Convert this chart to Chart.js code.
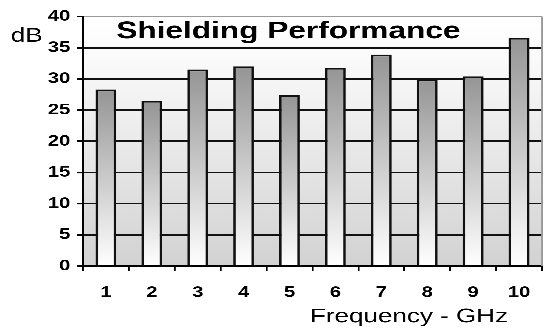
<!DOCTYPE html>
<html>
<head>
<meta charset="utf-8">
<script src="https://cdn.jsdelivr.net/npm/chart.js@4.4.1/dist/chart.umd.min.js"></script>
<style>
  html, body { margin: 0; padding: 0; background: #fff; overflow: hidden; }
  #wrap { position: absolute; left: 0; top: 0; width: 429px; height: 331px;
          transform: scaleX(1.3007); transform-origin: 0 0; }
</style>
</head>
<body>
<div id="wrap"><canvas id="c"></canvas></div>
<script>
const categories = ['1', '2', '3', '4', '5', '6', '7', '8', '9', '10'];
const shielding = [28.3, 26.5, 31.5, 32.0, 27.4, 31.8, 33.9, 29.9, 30.4, 36.6];
const yMin = 0, yMax = 40, yStep = 5;
const titleText = 'Shielding Performance';
const yTitleText = 'dB';
const xTitleText = 'Frequency - GHz';

const FONT = '"Liberation Sans", Arial, sans-serif';

const decor = {
  id: 'decor',
  beforeDraw(chart) {
    const { ctx, chartArea: a } = chart;
    const g = ctx.createLinearGradient(0, a.top, 0, a.bottom);
    g.addColorStop(0, '#ffffff');
    g.addColorStop(0.15, '#fbfbfb');
    g.addColorStop(1, '#d2d2d2');
    ctx.save();
    ctx.fillStyle = g;
    ctx.fillRect(a.left, a.top, a.right - a.left, a.bottom - a.top);
    ctx.restore();
  },
  beforeDatasetsDraw(chart) {
    const { ctx, chartArea: a } = chart;
    ctx.save();
    ctx.strokeStyle = '#9a9a9a';
    ctx.lineWidth = 1.3;
    ctx.beginPath();
    ctx.moveTo(a.right, a.top);
    ctx.lineTo(a.right, a.bottom);
    ctx.stroke();
    ctx.restore();
  },
  afterDraw(chart) {
    const { ctx } = chart;
    ctx.save();
    ctx.fillStyle = '#000';
    ctx.textBaseline = 'alphabetic';
    ctx.textAlign = 'center';
    ctx.font = 'bold 24.3px ' + FONT;
    ctx.fillText(titleText, 221.7, 38.4);
    ctx.textAlign = 'left';
    ctx.font = '20px ' + FONT;
    ctx.fillText(yTitleText, 8.3, 41.5);
    ctx.font = '20px ' + FONT;
    ctx.fillText(xTitleText, 238.3, 322.3);
    ctx.restore();
  }
};

new Chart(document.getElementById('c'), {
  type: 'bar',
  data: {
    labels: categories,
    datasets: [{
      data: shielding,
      borderColor: '#111',
      borderWidth: 1.9,
      borderSkipped: 'start',
      barPercentage: 0.45,
      categoryPercentage: 1.0,
      backgroundColor(ctx) {
        const chart = ctx.chart;
        const ys = chart.scales.y;
        if (!chart.chartArea || !ys || ctx.raw == null) return '#aaa';
        const top = ys.getPixelForValue(ctx.raw);
        const bottom = ys.getPixelForValue(0);
        const g = chart.ctx.createLinearGradient(0, top, 0, bottom);
        g.addColorStop(0, '#959595');
        g.addColorStop(1, '#ffffff');
        return g;
      }
    }]
  },
  options: {
    responsive: true,
    maintainAspectRatio: false,
    animation: false,
    devicePixelRatio: 3,
    layout: { padding: { top: 16.5, right: 12.3, left: 0, bottom: 0 } },
    plugins: { legend: { display: false }, title: { display: false }, tooltip: { enabled: false } },
    scales: {
      x: {
        offset: true,
        afterFit(s) { s.height = 65; },
        grid: { drawOnChartArea: false, drawTicks: true, tickLength: 5, color: '#000', lineWidth: 1.4, offset: true },
        border: { display: true, color: '#000', width: 2 },
        ticks: { color: '#000', padding: 12.5, font: { family: FONT, size: 15.5, weight: 'bold' } }
      },
      y: {
        min: yMin, max: yMax,
        afterFit(s) { s.width = 63.8; },
        ticks: { stepSize: yStep, color: '#000', padding: 5.2, font: { family: FONT, size: 15.5, weight: 'bold' } },
        grid: {
          drawTicks: true, tickLength: 4.6, tickColor: '#000',
          color(c) { return c.tick && c.tick.value === yMax ? '#9a9a9a' : '#111'; },
          lineWidth(c) { return c.tick && c.tick.value === yMax ? 1.3 : 1.7; }
        },
        border: { display: true, color: '#000', width: 1.6 }
      }
    }
  },
  plugins: [decor]
});
</script>
</body>
</html>
